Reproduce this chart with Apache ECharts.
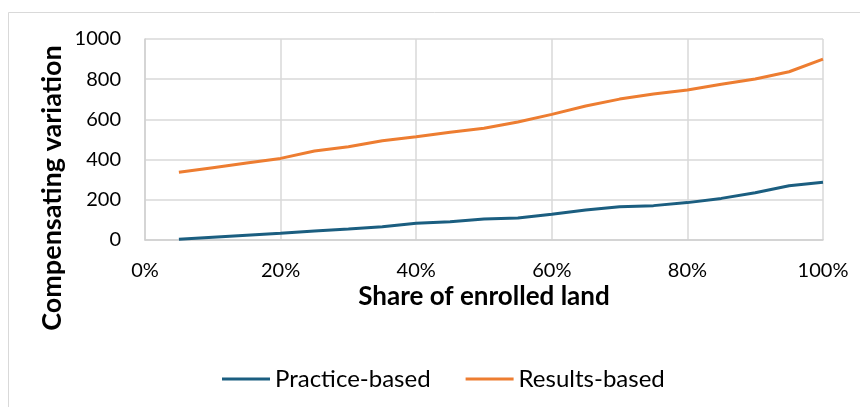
<!DOCTYPE html>
<html>
<head>
<meta charset="utf-8">
<script src="https://cdn.jsdelivr.net/npm/echarts@6/dist/echarts.min.js"></script>
<style>
  html, body { margin: 0; padding: 0; background: #ffffff; }
  #chart { width: 860px; height: 407px; }
</style>
</head>
<body>
<div id="chart"></div>
<script>
// Share of enrolled land (fraction of total)
const shares = [0.05, 0.10, 0.15, 0.20, 0.25, 0.30, 0.35, 0.40, 0.45, 0.50,
                0.55, 0.60, 0.65, 0.70, 0.75, 0.80, 0.85, 0.90, 0.95, 1.00];
// Compensating variation by payment scheme
const practiceBased = [4, 14, 24, 33, 45, 55, 66, 83, 91, 104,
                       109, 128, 149, 166, 171, 186, 207, 235, 270, 287];
const resultsBased = [337, 360, 383, 406, 443, 464, 494, 514, 536, 556,
                      587, 625, 667, 701, 726, 746, 775, 801, 837, 900];
const seriesNames = ['Practice-based', 'Results-based'];
const xTitle = 'Share of enrolled land';
const yTitle = 'Compensating variation';

const FONT = 'Lato';
const pairs = (vals) => shares.map((s, i) => [s, vals[i]]);

const chart = echarts.init(document.getElementById('chart'), null, { renderer: 'canvas' });
chart.setOption({
  backgroundColor: '#ffffff',
  animation: false,
  grid: { left: 145, right: 37, top: 39, bottom: 167, show: false },
  xAxis: {
    type: 'value', min: 0, max: 1, interval: 0.2,
    name: xTitle, nameLocation: 'middle', nameGap: 44,
    nameTextStyle: { fontFamily: FONT, fontWeight: 'bold', fontSize: 26, color: '#000' },
    axisLine: { show: true, lineStyle: { color: '#d0d0d0', width: 1.5 } },
    axisTick: { show: false },
    axisLabel: {
      margin: 21, fontFamily: FONT, fontSize: 20, color: '#000',
      formatter: (v) => Math.round(v * 100) + '%'
    },
    splitLine: { show: true, lineStyle: { color: '#d9d9d9', width: 1.5 } }
  },
  yAxis: {
    type: 'value', min: 0, max: 1000, interval: 200,
    axisLine: { show: true, lineStyle: { color: '#d0d0d0', width: 1.5 } },
    axisTick: { show: false },
    axisLabel: {
      margin: 24, fontFamily: FONT, fontSize: 20, color: '#000',
      formatter: (v) => String(v)
    },
    splitLine: { show: true, lineStyle: { color: '#d9d9d9', width: 1.5 } }
  },
  legend: {
    left: 217, top: 362,
    itemWidth: 48, itemHeight: 3, itemGap: 35,
    icon: 'rect',
    textStyle: { fontFamily: FONT, fontSize: 24, color: '#000' },
    data: seriesNames
  },
  graphic: [
    {
      type: 'rect', silent: true, z: -1,
      shape: { x: 8.5, y: 12.5, width: 900, height: 500 },
      style: { fill: 'none', stroke: '#d9d9d9', lineWidth: 1 }
    },
    {
      type: 'text', silent: true,
      x: 52, y: 188, rotation: Math.PI / 2,
      style: {
        text: yTitle, fontFamily: FONT, fontWeight: 'bold', fontSize: 27,
        fill: '#000', align: 'center', verticalAlign: 'middle'
      }
    }
  ],
  series: [
    {
      name: seriesNames[0], type: 'line', data: pairs(practiceBased),
      showSymbol: false, smooth: false,
      lineStyle: { color: '#1b5e80', width: 3 }, itemStyle: { color: '#1b5e80' }
    },
    {
      name: seriesNames[1], type: 'line', data: pairs(resultsBased),
      showSymbol: false, smooth: false,
      lineStyle: { color: '#ed7d31', width: 3 }, itemStyle: { color: '#ed7d31' }
    }
  ]
});
</script>
</body>
</html>
